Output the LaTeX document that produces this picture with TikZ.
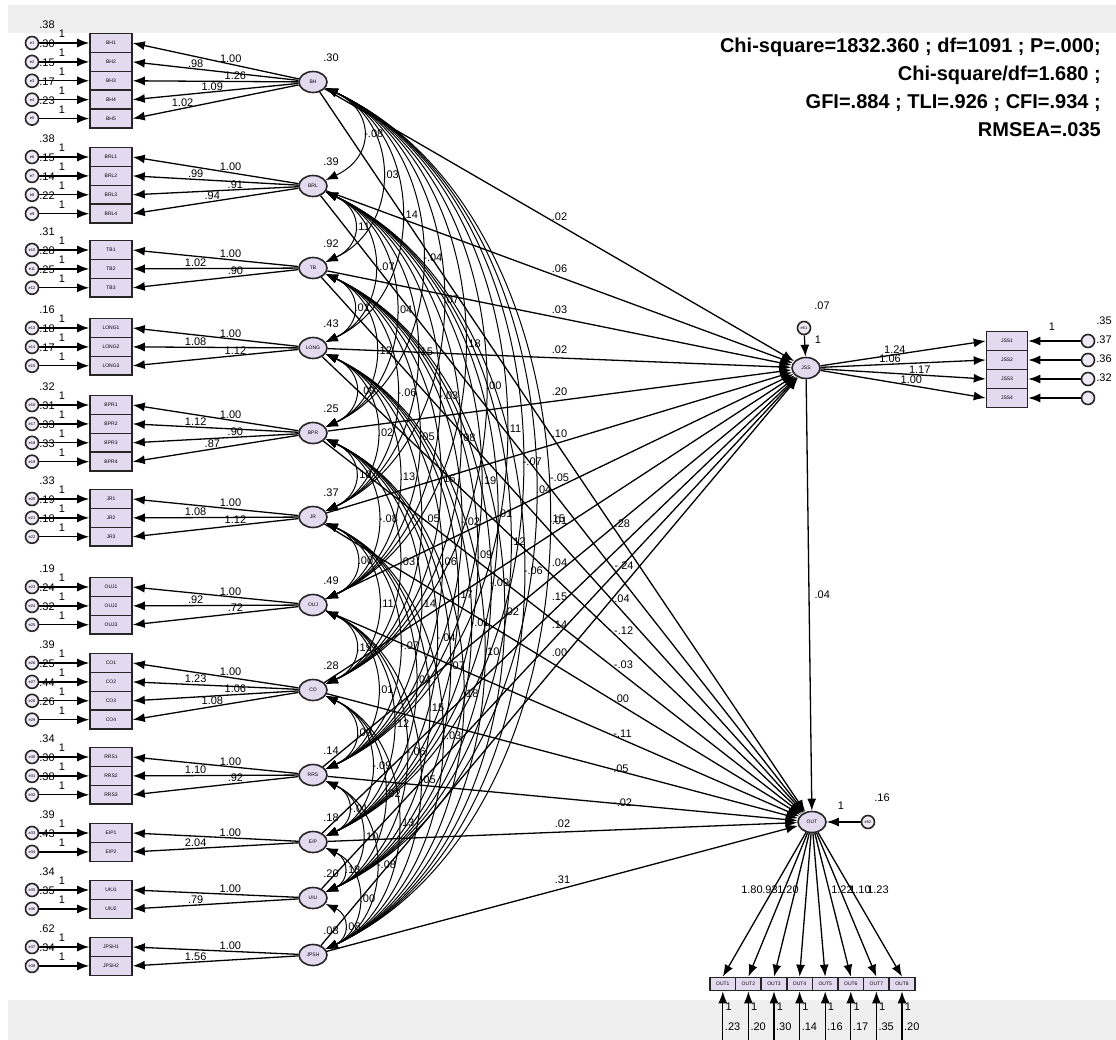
\documentclass[tikz,border=0pt]{standalone}
\usepackage{fontspec}
\setmainfont{Liberation Sans}
\usetikzlibrary{arrows.meta,shapes.geometric}
\definecolor{lav}{HTML}{E4DAF0}
\definecolor{band}{HTML}{EFEFEF}
\newcounter{errno}
\newcommand{\covlab}[1]{\ifnum#1<0 -.\ifnum-#1<10 0\fi\number-#1\else .\ifnum#1<10 0\fi\number#1\fi}

\begin{document}
\begin{tikzpicture}[x=1pt,y=-1pt,>={Latex[length=12pt,width=9pt]},
    lat/.style={ellipse,draw=black!85,line width=1.6pt,fill=lav,minimum width=28pt,minimum height=21pt,inner sep=0pt,font=\fontsize{5}{5}\selectfont},
    ind/.style={rectangle,draw=black!85,line width=1.6pt,fill=lav,minimum width=42pt,minimum height=18.9pt,inner sep=0pt,font=\fontsize{5}{5}\selectfont},
    err/.style={circle,draw=black!85,line width=1.6pt,fill=lav!60,minimum size=13pt,inner sep=0pt,font=\fontsize{4}{4}\selectfont},
    lbl/.style={inner sep=1pt,font=\fontsize{11}{11}\selectfont},
    arr/.style={->,line width=1.3pt}]
        \fill[white] (0,0) rectangle (1116,1040);
        \fill[band] (8,5) rectangle (1116,33);
        \fill[band] (8,1000) rectangle (1116,1040);
        \useasboundingbox (0,0) rectangle (1116,1040);

        % left measurement blocks
        \foreach \nm/\cnt/\yy/\ly/\lv/\evs/\lds [count=\b] in {
            BH/5/43/82/.30/{.38,.30,.15,.17,.23}/{1.00,.98,1.26,1.09,1.02},
            BRL/4/157/186/.39/{.38,.15,.14,.22}/{1.00,.99,.91,.94},
            TB/3/250/268/.92/{.31,.28,.25}/{1.00,1.02,.90},
            LONG/3/328/348/.43/{.16,.18,.17}/{1.00,1.08,1.12},
            BPR/4/405/433/.25/{.32,.31,.33,.33}/{1.00,1.12,.90,.87},
            JR/3/499/517/.37/{.33,.19,.18}/{1.00,1.08,1.12},
            OUJ/3/587/605/.49/{.19,.24,.32}/{1.00,.92,.72},
            CO/4/663/690/.28/{.39,.25,.44,.26}/{1.00,1.23,1.06,1.08},
            RRS/3/757/775/.14/{.34,.30,.38}/{1.00,1.10,.92},
            EIP/2/833/842/.18/{.39,.43}/{1.00,2.04},
            UIU/2/890/898/.20/{.34,.35}/{1.00,.79},
            JPSH/2/947/955/.08/{.62,.34}/{1.00,1.56}}
        {
            \node[lat] (L\b) at (313,\ly) {\nm};
            \node[lbl] (lv\b) at (331,\ly-24) {\lv};
            \foreach \e [count=\k] in \evs
            {
                \pgfmathsetmacro\yk{\yy+(\k-1)*18.9}
                \stepcounter{errno}
                \node[ind] (I\b-\k) at (111,\yk) {\nm\k};
                \node[err] (E\b-\k) at (32,\yk) {e\theerrno};
                \node[lbl] (ev\b-\k) at (47,\yk-18) {\e};
                \node[lbl] (one\b-\k) at (62,\yk-9) {1};
                \draw[arr] (E\b-\k) -- (I\b-\k);
            }
            \foreach \d [count=\k] in \lds
            {
                \pgfmathsetmacro\pp{{0.41,0.62,0.38,0.52,0.7}[\k-1]}
                \draw[arr] (L\b) -- node[lbl,pos=\pp,above] (ld\b-\k) {\d} (I\b-\k.east);
            }
        }

        % covariances
        \foreach \i in {1,...,11}
        {
            \pgfmathtruncatemacro\ii{\i+1}
            \foreach \j in {\ii,...,12}
            {
                \pgfmathtruncatemacro\cv{mod(\i*37+\j*11,29)-9}
                \pgfmathsetmacro\lz{0.92+0.6/(\j-\i)}
                \draw[<->,line width=1pt] (L\i) to[bend left=65,looseness=\lz] node[lbl,anchor=west] (c\i-\j) {\covlab{\cv}} (L\j);
            }
        }

        % mediator and outcome
        \node[lat] (JSS) at (806,368) {JSS};
        \node[lat] (OUT) at (812,822) {OUT};
        \node[err] (e51) at (804,328) {e51};
        \node[lbl] (v51) at (822,306) {.07};
        \node[lbl] (o51) at (818,340) {1};
        \draw[arr] (e51) -- (JSS);
        \node[err] (e52) at (868,822) {e52};
        \node[lbl] (v52) at (882,798) {.16};
        \node[lbl] (o52) at (841,806) {1};
        \draw[arr] (e52) -- (OUT);

        \foreach \b/\v in {1/.02,2/.06,3/.03,4/.02,5/.20,6/.10,7/-.05,8/.01,9/.04,10/.15,11/.14,12/.00}
        {
            \draw[arr] (L\b) -- node[lbl,pos=0.5,above=3pt] (sj\b) {\v} (JSS);
        }
        \foreach \b/\v in {1/.28,2/-.24,3/.04,4/-.12,5/-.03,6/.00,7/-.11,8/.05,9/-.02}
        {
            \draw[arr] (L\b) -- node[lbl,pos=0.6,right=2pt] (so\b) {\v} (OUT);
        }
        \draw[arr] (L10) -- node[lbl,pos=0.5,above=3pt] (so10) {.02} (OUT);
        \draw[arr] (L12) -- node[lbl,pos=0.5,above=3pt] (so12) {.31} (OUT);
        \draw[arr] (JSS) -- node[lbl,pos=0.5,right=4pt] (jo) {.04} (OUT);

        % JSS indicators
        \foreach \k/\e/\d/\pp in {1/.35/1.24/0.45,2/.37/1.06/0.42,3/.36/1.17/0.6,4/.32/1.00/0.55}
        {
            \node[ind,minimum width=41pt,minimum height=19pt] (J\k) at (1007,322+19*\k) {JSS\k};
            \node[err] (EJ\k) at (1088,322+19*\k) {};
            \node[lbl] (vj\k) at (1104,322+19*\k-20) {\e};
            \draw[arr] (EJ\k) -- (J\k.east);
            \draw[arr] (JSS) -- node[lbl,pos=\pp,above] (lj\k) {\d} (J\k.west);
        }
        \node[lbl] (oj) at (1052,327) {1};

        % OUT indicators
        \foreach \k/\e in {1/.23,2/.20,3/.30,4/.14,5/.16,6/.17,7/.35,8/.20}
        {
            \node[ind,minimum width=25.6pt,minimum height=13pt] (O\k) at (710+25.6*\k-12.8,984) {OUT\k};
            \coordinate (EO\k) at (710+25.6*\k-12.8,1040);
            \draw[arr] (EO\k) -- (O\k.south);
            \draw[arr] (OUT) -- (O\k.north);
            \node[lbl] (oo\k) at (710+25.6*\k-7,1007) {1};
            \node[lbl] (vo\k) at (710+25.6*\k-3,1027) {\e};
        }
        \node[lbl] (lo1) at (752,890) {1.80};
        \node[lbl] (lo2) at (770,890) {.93};
        \node[lbl] (lo3) at (788,890) {1.20};
        \node[lbl] (lo6) at (842,890) {1.22};
        \node[lbl] (lo7) at (860,890) {1.10};
        \node[lbl] (lo8) at (878,890) {1.23};

        \node[anchor=north east,align=right,inner sep=0pt,font=\bfseries\fontsize{20}{28}\selectfont] (stats) at (1101,38)
            {Chi-square=1832.360 ; df=1091 ; P=.000;\\Chi-square/df=1.680 ;\\GFI=.884 ; TLI=.926 ; CFI=.934 ;\\RMSEA=.035};
\end{tikzpicture}
\end{document}
